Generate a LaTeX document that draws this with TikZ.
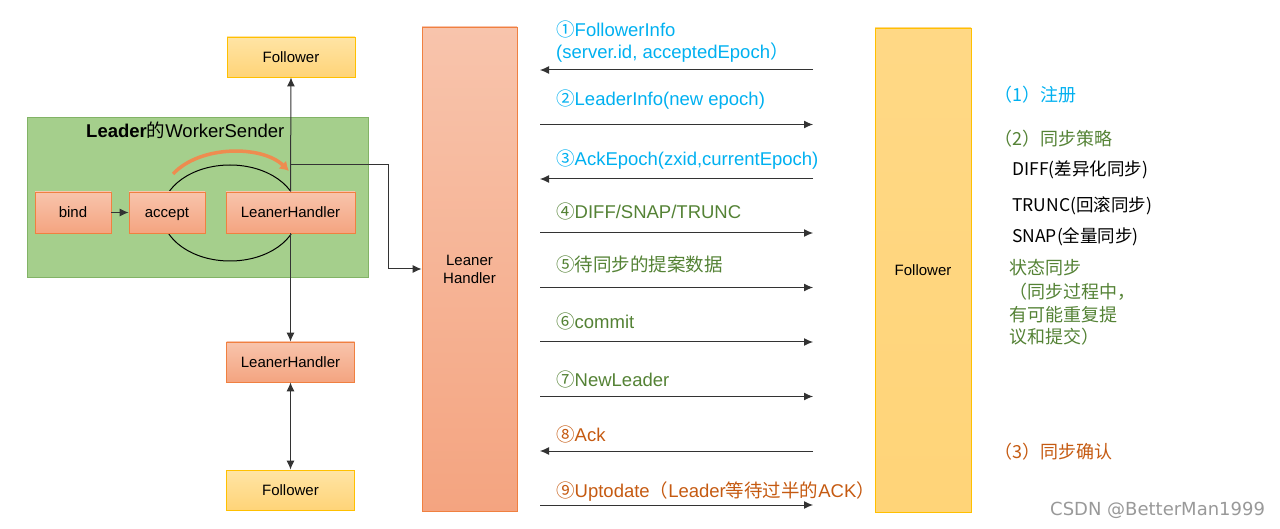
\documentclass[tikz,border=0pt]{standalone}
\usepackage{fontspec}
\setmainfont{Liberation Sans}
\newfontfamily\cjk{Noto Sans CJK SC}
\newfontfamily\marksans{DejaVu Sans}
\newcommand{\zh}[1]{{\cjk #1}}
\usetikzlibrary{arrows.meta,calc,shapes}
\tikzset{>={Latex[length=9pt,width=8pt]}}
\definecolor{infoblue}{RGB}{0,176,240}
\definecolor{syncgreen}{RGB}{84,130,53}
\definecolor{ackorange}{RGB}{197,90,17}
\definecolor{handlerline}{RGB}{240,128,64}
\definecolor{handlertop}{RGB}{248,196,172}
\definecolor{handlerbot}{RGB}{244,164,128}
\definecolor{followerline}{RGB}{255,192,0}
\definecolor{followertop}{RGB}{255,228,165}
\definecolor{followerbot}{RGB}{255,212,120}
\definecolor{workerfill}{RGB}{165,207,140}
\definecolor{workerline}{RGB}{130,179,102}
\definecolor{swingorange}{RGB}{238,140,80}
\tikzstyle{handler}=[rectangle,draw=handlerline,top color=handlertop,bottom color=handlerbot,thick,minimum height=40pt,minimum width=128pt,text height=13pt,text depth=2pt,font=\fontsize{15}{18}\selectfont]
\tikzstyle{follower}=[rectangle,draw=followerline,top color=followertop,bottom color=followerbot,thick,minimum height=40pt,minimum width=128pt,text height=13pt,text depth=2pt,font=\fontsize{15}{18}\selectfont]
\tikzstyle{worker}=[rectangle,draw=workerline,fill=workerfill,thick,minimum height=160pt,minimum width=341pt]
\tikzstyle{msg}=[anchor=base west,inner sep=0pt,font=\fontsize{18.5}{21}\selectfont]
\tikzstyle{note}=[anchor=base west,inner sep=0pt,font=\cjk\fontsize{18}{21}\selectfont]
\tikzstyle{kind}=[anchor=base west,inner sep=0pt,font=\cjk\fontsize{17.5}{20}\selectfont]
\tikzstyle{link}=[draw=black!80,line width=1pt]
\tikzstyle{swing}=[draw=swingorange,line width=3.5pt,-{Latex[length=9pt,width=11pt]}]

\begin{document}
\begin{tikzpicture}[x=1pt,y=-1pt,inner sep=1mm]
	\useasboundingbox (0,0) rectangle (1280,529);

	% the two sides
	\node[handler, minimum width=95pt, minimum height=484pt, text height=, text depth=, align=center] (handler3) at (469.5,269) {Leaner\\Handler};
	\node[follower, minimum width=96pt, minimum height=484pt, top color=followerbot!90!white, bottom color=followerbot] (follower3) at (923,270) {Follower};

	% left part
	\node[follower] (follower1) at (291,57) {Follower};
	\node[worker] (worker) at (197.5,197) {};
	\node[anchor=base west,inner sep=0pt,font=\fontsize{18.5}{21}\selectfont] (title) at (86,138) {\textbf{Leader}\zh{的}WorkerSender};
	\draw[line width=1pt] (230,213) ellipse [x radius=68pt, y radius=48pt];
	\node[handler, minimum width=76pt, minimum height=41pt] (bind) at (73,212.5) {bind};
	\node[handler, minimum width=76pt, minimum height=41pt] (accept) at (167,212.5) {accept};
	\node[handler, minimum width=129pt, minimum height=41pt] (handler1) at (290.5,212.5) {LeanerHandler};
	\node[handler] (handler2) at (290.5,362) {LeanerHandler};
	\node[follower] (follower2) at (290.5,490) {Follower};

	\coordinate (swing1) at (173,174);
	\coordinate (swing2) at (289,171);
	\draw[swing] (swing1) .. controls (200,145) and (262,145) .. (swing2);

	\draw[link,->] (bind) -- (accept);
	\draw[link,->] (handler1.north) -- (follower1.south);
	\coordinate (tap) at (290.5,165);
	\coordinate (bend) at (388,269);
	\draw[link,->] (tap) -| (bend) -- (handler3.west);
	\draw[link,->] (handler1) -- (handler2);
	\draw[link,<->] (handler2) -- (follower2);

	% messages
	\foreach \i/\y in {1/70,2/124.5,3/179,4/233,5/287.5,6/342,7/396.5,8/451,9/505} {
		\coordinate (l\i) at (540,\y);
		\coordinate (r\i) at (813,\y);
	}
	\draw[link,->] (r1) -- (l1);
	\draw[link,->] (l2) -- (r2);
	\draw[link,->] (r3) -- (l3);
	\draw[link,->] (l4) -- (r4);
	\draw[link,->] (l5) -- (r5);
	\draw[link,->] (l6) -- (r6);
	\draw[link,->] (l7) -- (r7);
	\draw[link,->] (r8) -- (l8);
	\draw[link,->] (l9) -- (r9);

	\node[msg, text=infoblue] (msg1) at (556,37) {\zh{①}FollowerInfo};
	\node[msg, text=infoblue] (msg1b) at (556,59) {(server.id, acceptedEpoch\zh{）}};
	\node[msg, text=infoblue] (msg2) at (556,106) {\zh{②}LeaderInfo(new epoch)};
	\node[msg, text=infoblue] (msg3) at (556,166) {\zh{③}AckEpoch(zxid,currentEpoch)};
	\node[msg, text=syncgreen] (msg4) at (556,219) {\zh{④}DIFF/SNAP/TRUNC};
	\node[msg, text=syncgreen] (msg5) at (556,272) {\zh{⑤待同步的提案数据}};
	\node[msg, text=syncgreen] (msg6) at (556,329) {\zh{⑥}commit};
	\node[msg, text=syncgreen] (msg7) at (556,386) {\zh{⑦}NewLeader};
	\node[msg, text=ackorange] (msg8) at (556,441) {\zh{⑧}Ack};
	\node[msg, text=ackorange] (msg9) at (556,497) {\zh{⑨}Uptodate\zh{（}Leader\zh{等待过半的}ACK\zh{）}};

	% right notes
	\node[note, text=infoblue] (step1) at (994,102) {（1）注册};
	\node[note, text=syncgreen] (step2) at (994,146) {（2）同步策略};
	\node[kind] (diff) at (1012,176) {DIFF(差异化同步)};
	\node[kind] (trunc) at (1012,212) {TRUNC(回滚同步)};
	\node[kind] (snap) at (1012,243) {SNAP(全量同步)};
	\node[note, text=syncgreen] (state1) at (1009,275) {状态同步};
	\node[note, text=syncgreen] (state2) at (1009,299) {（同步过程中，};
	\node[note, text=syncgreen] (state3) at (1009,322) {有可能重复提};
	\node[note, text=syncgreen] (state4) at (1009,344) {议和提交）};
	\node[note, text=ackorange] (step3) at (994,458) {（3）同步确认};
	\node[anchor=base west,inner sep=0pt,text=black!40,font=\marksans\fontsize{18}{21}\selectfont] (mark) at (1050,515) {CSDN @BetterMan1999};
\end{tikzpicture}
\end{document}
